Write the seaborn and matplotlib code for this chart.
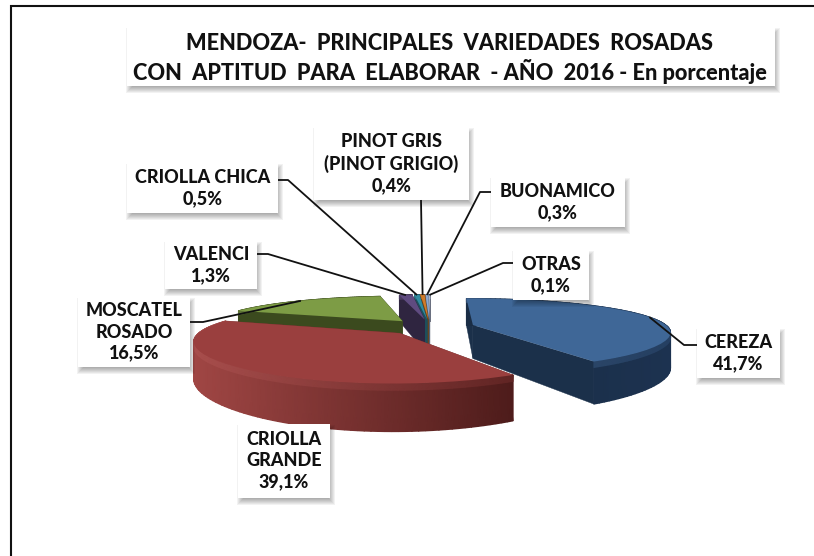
import numpy as np
import matplotlib
matplotlib.use("Agg")
import matplotlib.pyplot as plt
import seaborn as sns
from matplotlib.patches import Rectangle
from matplotlib.transforms import Transform
from matplotlib.colors import to_rgb, LinearSegmentedColormap

sns.set_theme(style="white")
plt.rcParams['font.family'] = ['Lato', 'DejaVu Sans']

# ---- data ----
title_lines = ["MENDOZA-  PRINCIPALES  VARIEDADES  ROSADAS",
               "CON  APTITUD  PARA  ELABORAR  - AÑO  2016 - En porcentaje"]
categories = ["CEREZA", "CRIOLLA\nGRANDE", "MOSCATEL\nROSADO", "VALENCI",
              "CRIOLLA CHICA", "PINOT GRIS\n(PINOT GRIGIO)", "BUONAMICO", "OTRAS"]
values = [41.7, 39.1, 16.5, 1.3, 0.5, 0.4, 0.3, 0.1]
top_colors = ["#3F6797", "#9A3F3E", "#7D9C45", "#5F4B80", "#2F8BA0", "#D07B2A", "#8FA9CF", "#B4BCCB"]
side_left = ["#1A2D45", "#A04644", "#3B4A1E", "#2F2540", "#1D4F5C", "#6E4114", "#4F6279", "#6A7080"]
side_right = ["#1C3250", "#4E1C1B", "#3B4A1E", "#2F2540", "#1D4F5C", "#6E4114", "#4F6279", "#6A7080"]

# layout: label box (x0, y0, x1, y1), leader elbow points (in pixels)
boxes = [(697, 328, 780, 378), (238, 424, 330, 498), (78, 297, 190, 367), (165, 241, 257, 289),
         (127, 163, 278, 213), (314, 127, 469, 200), (491, 177, 625, 227), (513, 250, 589, 300)]
leader_start = [[(697, 345), (684, 345)], [], [(190, 322), (203, 322)], [(257, 254), (268, 254)],
                [(278, 180), (288, 180)], [(421, 200)], [(491, 192), (480, 192)], [(513, 263), (503, 263)]]

W, H = 814, 556
CX, CY, SX, T, P, PX, DEPTH = 430, 327, 195, 34, 0.25, 0.18, 34
EXPLODE = 0.23


def project(x, y, z=0.0):
    x, y = np.asarray(x, float), np.asarray(y, float)
    w = 1 / (1 + P * y)
    return CX + SX * x / (1 + PX * y), CY - (T * y + z * DEPTH) * w


class Perspective(Transform):
    input_dims = output_dims = 2
    is_affine = False
    has_inverse = False

    def transform_non_affine(self, xy):
        xy = np.asarray(xy, float)
        sx, sy = project(xy[:, 0], xy[:, 1])
        return np.column_stack([sx, sy])


fig = plt.figure(figsize=(W / 100, H / 100), dpi=100, facecolor="white")
ax = fig.add_axes([0, 0, 1, 1])

wedges, _ = ax.pie(values, colors=top_colors, startangle=90, counterclock=False,
                   explode=[EXPLODE] * len(values), frame=True,
                   wedgeprops={"linewidth": 0})
ax.set_aspect("auto")

persp = Perspective()
order = [7, 6, 5, 4, 3, 2, 0, 1]
anchors = {}
for rank, i in enumerate(order):
    wd = wedges[i]
    base = 10 + rank * 4
    cx0, cy0 = wd.center
    t = np.radians(np.linspace(wd.theta1, wd.theta2, 90))
    rx, ry = cx0 + wd.r * np.cos(t), cy0 + wd.r * np.sin(t)
    cl, cr = np.array(to_rgb(side_left[i])), np.array(to_rgb(side_right[i]))
    for j in (0, -1):
        xs = [cx0, rx[j], rx[j], cx0]
        ys = [cy0, ry[j], ry[j], cy0]
        zs = [0, 0, -1, -1]
        sx, sy = zip(*[project(a, b, c) for a, b, c in zip(xs, ys, zs)])
        ax.fill(sx, sy, color=cl * 0.5 + cr * 0.5, lw=0.3, zorder=base)
    # rim with a smooth horizontal shading
    x_top, y_top = project(rx, ry, 0)
    x_bev, y_bev = project(rx, ry, -0.14)
    x_bot, y_bot = project(rx, ry, -1)
    f = (x_top - x_top.min()) / max(np.ptp(x_top), 1)
    cmap = LinearSegmentedColormap.from_list("rim", [cl, cr])
    ax.pcolormesh(np.array([x_top, x_bot]), np.array([y_top, y_bot]), np.array([f, f]),
                  shading="gouraud", cmap=cmap, vmin=0, vmax=1, zorder=base + 1)
    # small bevel just below the top face
    top_rgb = np.array(to_rgb(top_colors[i]))
    cb = LinearSegmentedColormap.from_list("bev", [np.clip(0.6 * cl + 0.4 * top_rgb + 0.04, 0, 1),
                                                   0.75 * cr + 0.25 * top_rgb])
    ax.pcolormesh(np.array([x_top, x_bev]), np.array([y_top, y_bev]), np.array([f, f]),
                  shading="gouraud", cmap=cb, vmin=0, vmax=1, zorder=base + 2)
    # top face: the pie wedge itself through the perspective
    wd.set_transform(persp + ax.transData)
    wd.set_zorder(base + 3)
    wd.set_clip_on(False)
    tm = np.radians((wd.theta1 + wd.theta2) / 2)
    anchors[i] = project(cx0 + wd.r * np.cos(tm), cy0 + wd.r * np.sin(tm))

ax.set_xlim(0, W)
ax.set_ylim(H, 0)
ax.axis("off")


def fmt(v):
    return f"{v:.1f}".replace(".", ",") + "%"


def shadow_box(x0, y0, x1, y1, z, spread=7):
    for s in range(spread):
        g = s - 3
        ax.add_patch(Rectangle((x0 + 2 - g, y0 + 4 - g), x1 - x0 + 2 * g, y1 - y0 + 2 * g,
                               fc="#000000", ec="none", alpha=0.05, zorder=z))
    ax.add_patch(Rectangle((x0, y0), x1 - x0, y1 - y0, fc="white", ec="none", zorder=z + 0.5))


# outer frame: left and top lines only
ax.plot([11, 11, W], [H, 5.5, 5.5], color="#111111", lw=1.5, zorder=1, solid_joinstyle="miter")

# title
shadow_box(127, 27, 775, 86, 60)
for line, y in zip(title_lines, [43, 71]):
    ax.text(450, y, line, ha="center", va="center", fontsize=15.7, fontweight="black",
            color="#111111", zorder=62)

# labels + leaders
for i, (cat, v) in enumerate(zip(categories, values)):
    x0, y0, x1, y1 = boxes[i]
    if leader_start[i]:
        pts = leader_start[i] + [anchors[i]]
        ax.plot([p[0] for p in pts], [p[1] for p in pts], color="#111111", lw=1.3,
                zorder=50, solid_capstyle="butt")
    shadow_box(x0, y0, x1, y1, 40)
    ax.text((x0 + x1) / 2, (y0 + y1) / 2, cat + "\n" + fmt(v), ha="center", va="center",
            fontsize=13, fontweight="black", color="#111111", linespacing=1.3, zorder=45)

fig.savefig("out.png", dpi=100, facecolor="white")
